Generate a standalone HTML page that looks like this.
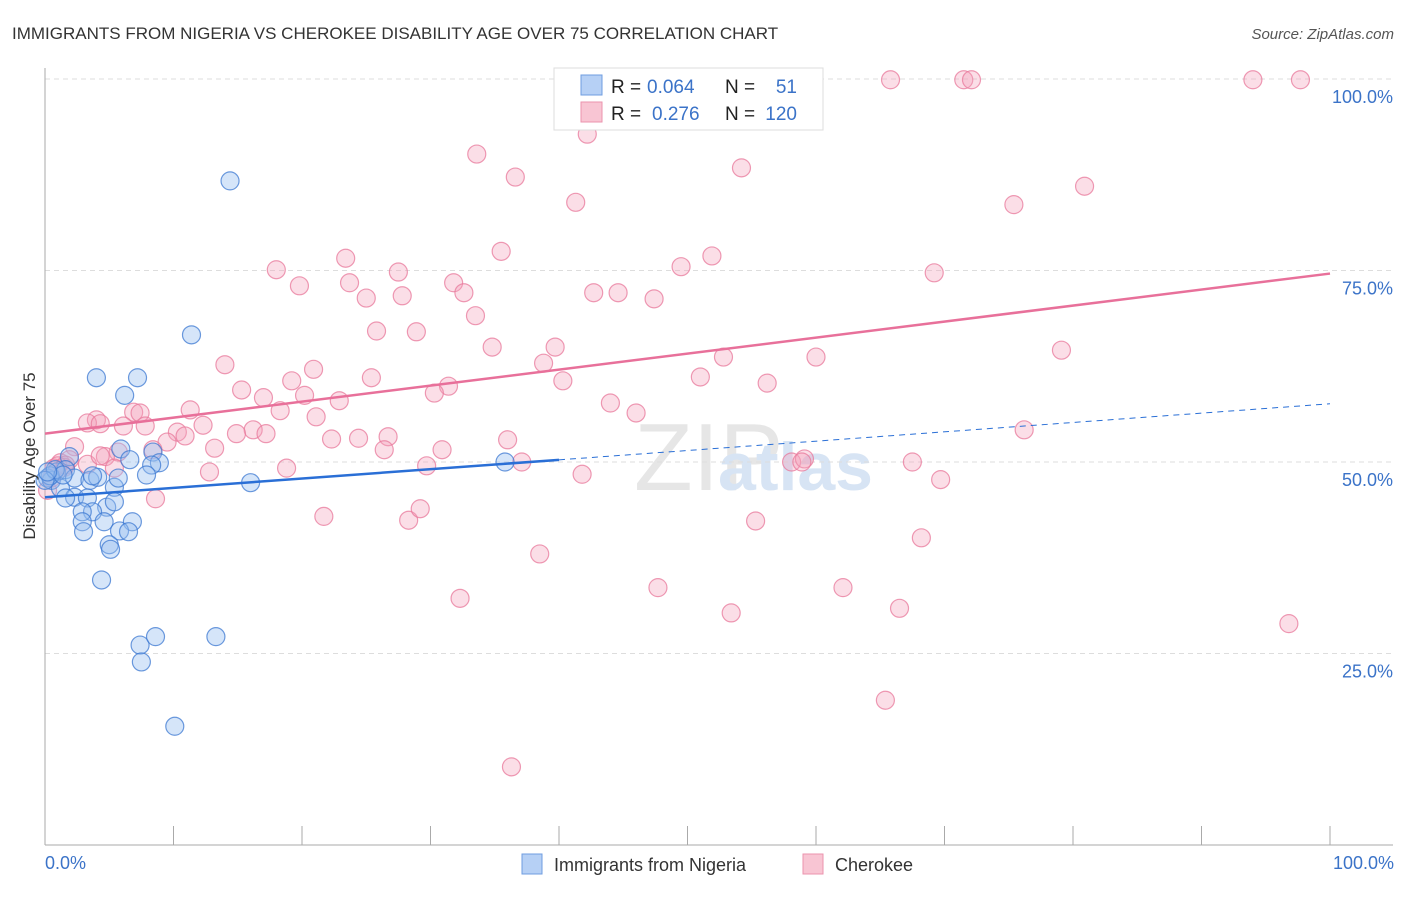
<!DOCTYPE html>
<html><head><meta charset="utf-8"><style>
body{margin:0;background:#fff;font-family:"Liberation Sans",sans-serif;}
svg text{font-family:"Liberation Sans",sans-serif;}
</style></head><body>
<svg id="chart" width="1406" height="892" xmlns="http://www.w3.org/2000/svg">
<text x="12" y="39" font-size="17" fill="#333">IMMIGRANTS FROM NIGERIA VS CHEROKEE DISABILITY AGE OVER 75 CORRELATION CHART</text>
<text x="1394" y="39" font-size="15" fill="#555" font-style="italic" text-anchor="end">Source: ZipAtlas.com</text>
<text x="634" y="490" font-size="96" fill="#e6e6e6" font-family="Liberation Serif">ZIP</text>
<text x="718" y="490" font-size="68" fill="#d7e4f4" font-weight="bold">atlas</text>
<g id="grid"></g>
<g id="axes"></g>
<g id="pts"></g>
<g id="trends"></g>
<text x="35" y="456" font-size="17" fill="#333" text-anchor="middle" transform="rotate(-90 35 456)">Disability Age Over 75</text>
<text x="45" y="869" font-size="18" fill="#3b73c8">0.0%</text>
<text x="1394" y="869" font-size="18" fill="#3b73c8" text-anchor="end">100.0%</text>
<g>
<rect x="554" y="68" width="269" height="62" fill="#fff" stroke="#ddd"/>
<rect x="581" y="75" width="21" height="20" fill="#b6d0f5" stroke="#6f9de0"/>
<rect x="581" y="102" width="21" height="20" fill="#f8c5d3" stroke="#eb93ae"/>
<text x="611" y="93" font-size="19" fill="#222">R =</text><text x="647" y="93" font-size="19" fill="#3b73c8">0.064</text>
<text x="725" y="93" font-size="19" fill="#222">N =</text><text x="797" y="93" font-size="19" fill="#3b73c8" text-anchor="end">51</text>
<text x="611" y="120" font-size="19" fill="#222">R =</text><text x="652" y="120" font-size="19" fill="#3b73c8">0.276</text>
<text x="725" y="120" font-size="19" fill="#222">N =</text><text x="797" y="120" font-size="19" fill="#3b73c8" text-anchor="end">120</text>
</g>
<g>
<rect x="522" y="854" width="20" height="20" fill="#b6d0f5" stroke="#6f9de0"/>
<text x="554" y="871" font-size="18" fill="#333">Immigrants from Nigeria</text>
<rect x="803" y="854" width="20" height="20" fill="#f8c5d3" stroke="#eb93ae"/>
<text x="835" y="871" font-size="18" fill="#333">Cherokee</text>
</g>
</svg>
<script>
const yTicks=[25,50,75,100];
const yTickLabels=["25.0%","50.0%","75.0%","100.0%"];
const xTickVals=[0,10,20,30,40,50,60,70,80,90,100];
const blueX=[14.4,11.4,4.0,7.2,6.2,5.9,8.4,6.6,8.9,8.3,7.9,16.0,35.8,1.9,0.9,1.6,2.3,3.5,4.1,0.2,0.5,1.2,2.3,3.3,5.4,4.8,5.4,3.7,2.9,2.9,4.6,6.8,3.0,5.8,6.5,5.0,5.1,4.4,7.4,8.6,7.5,13.3,10.1,0.4,0.8,1.4,0.0,1.6,0.2,5.7,3.7];
const blueY=[86.7,66.6,61.0,61.0,58.7,51.7,51.3,50.3,49.9,49.6,48.3,47.3,50.0,50.7,48.7,49.0,47.9,47.6,48.0,47.9,47.6,46.6,45.4,45.3,46.7,44.1,44.8,43.5,43.5,42.2,42.2,42.2,40.9,41.0,40.9,39.2,38.6,34.6,26.1,27.2,23.9,27.2,15.5,48.2,49.0,48.3,47.6,45.3,48.7,47.9,48.2];
const pinkX=[33.6,42.2,36.6,41.3,54.2,65.8,71.5,72.1,94.0,97.7,80.9,75.4,35.5,51.9,49.5,69.2,18.0,23.4,27.5,31.8,32.6,19.8,23.7,25.0,27.8,42.7,44.6,47.4,33.5,25.8,28.9,34.8,39.7,38.8,40.3,31.4,30.3,14.0,20.9,25.4,19.2,15.3,20.2,17.0,22.9,52.8,60.0,51.0,56.2,79.1,44.0,46.0,11.3,6.9,7.4,18.3,21.1,4.0,3.3,4.3,6.1,7.8,12.3,10.3,16.2,14.9,17.2,10.9,9.5,22.3,24.4,26.7,26.4,30.9,36.0,76.2,2.3,8.4,13.2,5.7,1.2,0.7,1.9,1.5,1.0,3.3,4.7,5.4,12.8,18.8,29.7,37.1,58.1,59.1,58.9,67.5,41.8,69.7,8.6,21.7,28.3,29.2,55.3,68.2,38.5,32.3,47.7,62.1,53.4,66.5,96.8,65.4,36.3,0.2,0.5,1.6,4.3,43.7,48.2,50.0,52.2];
const pinkY=[90.2,92.8,87.2,83.9,88.4,99.9,99.9,99.9,99.9,99.9,86.0,83.6,77.5,76.9,75.5,74.7,75.1,76.6,74.8,73.4,72.1,73.0,73.4,71.4,71.7,72.1,72.1,71.3,69.1,67.1,67.0,65.0,65.0,62.9,60.6,59.9,59.0,62.7,62.1,61.0,60.6,59.4,58.7,58.4,58.0,63.7,63.7,61.1,60.3,64.6,57.7,56.4,56.8,56.5,56.4,56.7,55.9,55.5,55.1,55.0,54.7,54.7,54.8,53.9,54.2,53.7,53.7,53.4,52.6,53.0,53.1,53.3,51.6,51.6,52.9,54.2,52.0,51.6,51.8,51.3,49.9,49.2,50.3,49.3,49.5,49.7,50.7,49.2,48.7,49.2,49.5,50.0,50.0,50.4,50.0,50.0,48.4,47.7,45.2,42.9,42.4,43.9,42.3,40.1,38.0,32.2,33.6,33.6,30.3,30.9,28.9,18.9,10.2,46.3,47.9,49.6,50.8,99.9,99.9,99.9,99.9];
const blueTrend=[45.4,57.6];
const pinkTrend=[53.7,74.6];
const blueSolidEnd=40;
const NS='http://www.w3.org/2000/svg';
const X0=45,X1=1330,Y0=845,Y100=79;
const sx=v=>X0+(X1-X0)*v/100;
const sy=v=>Y0-(Y0-Y100)*v/100;
function mk(t,a,p){const e=document.createElementNS(NS,t);for(const k in a)e.setAttribute(k,a[k]);p.appendChild(e);return e;}
const grid=document.getElementById('grid');
yTicks.forEach((t,i)=>{
  const l=mk('line',{x1:X0,x2:1393,y1:sy(t),y2:sy(t),stroke:'#ddd','stroke-dasharray':'5,4'},grid);
  
  
  const tx=mk('text',{x:1393,y:sy(t)+24,'font-size':18,fill:'#3b73c8','text-anchor':'end'},grid);
  tx.textContent=yTickLabels[i];
  
  
});
const ax=document.getElementById('axes');
const ya=mk('line',{x1:X0,x2:X0,y1:68,y2:Y0,stroke:'#aaa'},ax);


const xa=mk('line',{x1:X0,x2:1393,y1:Y0,y2:Y0,stroke:'#aaa'},ax);


xTickVals.forEach(v=>{
  const t=mk('line',{x1:sx(v),x2:sx(v),y1:826,y2:Y0,stroke:'#aaa'},ax);
  
  
});
const pts=document.getElementById('pts');
pinkX.forEach((x,i)=>{
  const c=mk('circle',{cx:sx(x),cy:sy(pinkY[i]),r:9,fill:'rgba(244,160,186,0.35)',stroke:'rgba(232,120,155,0.75)','stroke-width':1.2},pts);
  
  
});
blueX.forEach((x,i)=>{
  const c=mk('circle',{cx:sx(x),cy:sy(blueY[i]),r:9,fill:'rgba(150,190,240,0.4)',stroke:'rgba(60,120,210,0.75)','stroke-width':1.2},pts);
  
  
});
const tr=document.getElementById('trends');
const by=v=>blueTrend[0]+(blueTrend[1]-blueTrend[0])*v/100;
const b1=mk('line',{x1:sx(0),y1:sy(by(0)),x2:sx(blueSolidEnd),y2:sy(by(blueSolidEnd)),stroke:'#2a6fd6','stroke-width':2.5},tr);


const b2=mk('line',{x1:sx(blueSolidEnd),y1:sy(by(blueSolidEnd)),x2:sx(100),y2:sy(by(100)),stroke:'#2a6fd6','stroke-width':1,'stroke-dasharray':'6,5'},tr);


const p1=mk('line',{x1:sx(0),y1:sy(pinkTrend[0]),x2:sx(100),y2:sy(pinkTrend[1]),stroke:'#e8709a','stroke-width':2.5},tr);


</script>
</body></html>
